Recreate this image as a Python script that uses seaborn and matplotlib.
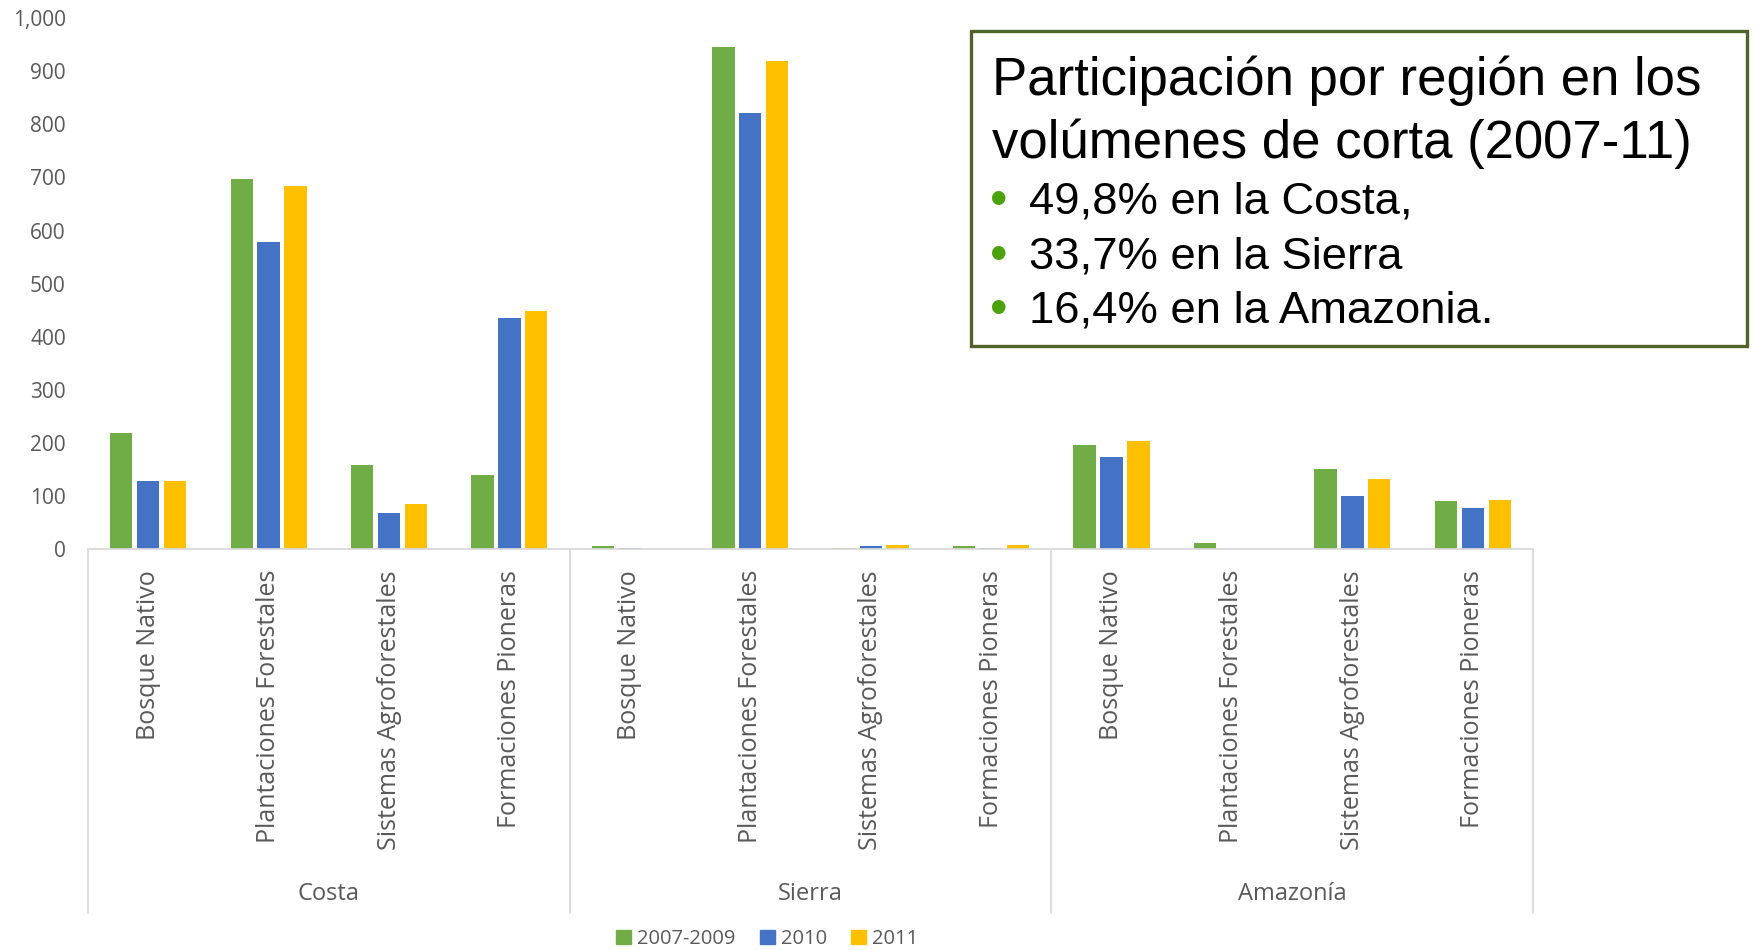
import pandas as pd
import matplotlib
matplotlib.use("Agg")
import matplotlib.pyplot as plt
import seaborn as sns
from matplotlib.patches import Rectangle, Patch
from matplotlib.transforms import blended_transform_factory

regions = ["Costa", "Sierra", "Amazonía"]
types = ["Bosque Nativo", "Plantaciones Forestales", "Sistemas Agroforestales", "Formaciones Pioneras"]
periods = ["2007-2009", "2010", "2011"]

# volumes per region/type, in the order Costa, Sierra, Amazonía
vol_2007_2009 = [219, 697, 158, 139, 7, 945, 3, 6, 196, 12, 151, 91]
vol_2010 = [128, 579, 69, 436, 2, 821, 6, 3, 174, 0, 101, 78]
vol_2011 = [128, 684, 85, 448, 1, 920, 8, 8, 203, 0, 132, 93]

colors = ["#70AD47", "#4472C4", "#FFC000"]
grey = "#595959"

keys = [r + "|" + t for r in regions for t in types]
rows = []
for p, vals in zip(periods, [vol_2007_2009, vol_2010, vol_2011]):
    for k, v in zip(keys, vals):
        rows.append({"key": k, "period": p, "value": v})
df = pd.DataFrame(rows)

sns.set_style("white")
plt.rcParams['font.family'] = ['Open Sans', 'DejaVu Sans']

fig = plt.figure(figsize=(17.56, 9.5), dpi=100)
ax = fig.add_axes([0.0501, 0.4218, 0.8229, 0.5592])

sns.barplot(data=df, x="key", y="value", hue="period", order=keys, hue_order=periods,
            palette=colors, saturation=1, width=0.67, gap=0.17, linewidth=0,
            legend=False, ax=ax)

ax.set_xlim(-0.5, 11.5)
ax.set_ylim(0, 1000)
for s in ax.spines.values():
    s.set_visible(False)
ax.set_xlabel("")
ax.set_ylabel("")

ax.set_yticks(range(0, 1001, 100))
ax.set_yticklabels([f"{v:,}" for v in range(0, 1001, 100)], fontsize=15, color=grey)
ax.tick_params(axis="y", length=0, pad=16)

ax.set_xticks(range(12))
ax.set_xticklabels(types * 3, rotation=90, fontsize=18, color=grey)
ax.tick_params(axis="x", length=0, pad=15)

ax.axhline(0, color="#d9d9d9", lw=1.3, clip_on=False)
trans = blended_transform_factory(ax.transData, ax.transAxes)
for x in [-0.5, 3.5, 7.5, 11.5]:
    ax.plot([x, x], [0, -0.6845], transform=trans, color="#d9d9d9", lw=1.3, clip_on=False)
for i, r in enumerate(regions):
    ax.text(4 * i + 1.5, -0.649, r, transform=trans, ha="center", va="center",
            fontsize=17, color=grey)

handles = [Patch(color=c, label=p) for c, p in zip(colors, periods)]
fig.legend(handles=handles, loc="center", bbox_to_anchor=(0.437, 0.0116), ncol=3,
           frameon=False, fontsize=14.5, handlelength=0.75, handleheight=0.75,
           handletextpad=0.3, columnspacing=1.2, labelcolor=grey)

# text box
fig.add_artist(Rectangle((0.553, 0.636), 0.442, 0.331, transform=fig.transFigure,
                         facecolor="white", edgecolor="#4F6228", lw=2.4, zorder=5))
box_font = ["Liberation Sans", "DejaVu Sans"]
fig.text(0.565, 0.9155, "Participación por región en los", fontsize=38, family=box_font,
         color="black", ha="left", va="center", zorder=6)
fig.text(0.565, 0.8485, "volúmenes de corta (2007-11)", fontsize=38, family=box_font,
         color="black", ha="left", va="center", zorder=6)
bullets = ["49,8% en la Costa,", "33,7% en la Sierra", "16,4% en la Amazonia."]
for y, b in zip([0.7875, 0.7295, 0.6725], bullets):
    fig.text(0.5685, y, "•", fontsize=36, color="#4CA20E", family=box_font,
             ha="center", va="center", zorder=6)
    fig.text(0.586, y, b, fontsize=32.7, family=box_font, color="black",
             ha="left", va="center", zorder=6)

fig.savefig("out.png", dpi=100, facecolor="white")
